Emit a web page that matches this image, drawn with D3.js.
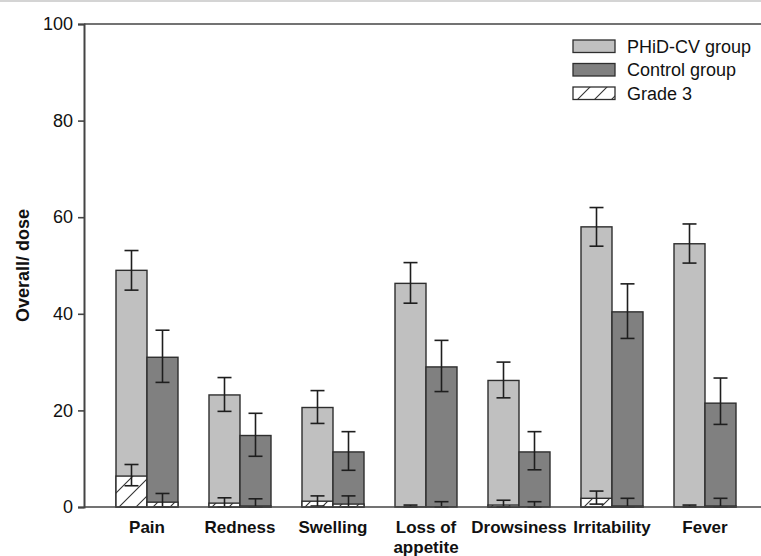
<!DOCTYPE html>
<html>
<head>
<meta charset="utf-8">
<script src="https://cdn.jsdelivr.net/npm/d3@7"></script>
<style>
  html, body { margin: 0; padding: 0; background: #fff; }
  svg { display: block; }
</style>
</head>
<body>
<script>
// Solicited adverse events per dose (%), PHiD-CV vs control, with 95% CI
const categories = ["Pain", "Redness", "Swelling", "Loss of appetite", "Drowsiness", "Irritability", "Fever"];
const groups = ["PHiD-CV group", "Control group"];

const phidOverall  = [49.0, 23.2, 20.6, 46.3, 26.2, 58.0, 54.5];
const phidLow      = [44.9, 19.8, 17.3, 42.2, 22.6, 54.0, 50.5];
const phidHigh     = [53.1, 26.8, 24.1, 50.6, 30.0, 62.0, 58.6];

const controlOverall = [31.0, 14.8, 11.4, 29.0, 11.4, 40.4, 21.5];
const controlLow     = [25.8, 10.5, 7.6, 23.9, 7.7, 34.9, 17.1];
const controlHigh    = [36.6, 19.4, 15.6, 34.5, 15.6, 46.2, 26.7];

const phidGrade3     = [6.4, 0.8, 1.2, 0.0, 0.4, 1.8, 0.0];
const phidG3Low      = [4.4, 0.0, 0.2, 0.0, 0.0, 0.6, 0.0];
const phidG3High     = [8.8, 1.9, 2.3, 0.4, 1.4, 3.3, 0.4];

const controlGrade3  = [1.0, 0.2, 0.6, 0.0, 0.0, 0.2, 0.2];
const controlG3Low   = [0.0, 0.0, 0.0, 0.0, 0.0, 0.0, 0.0];
const controlG3High  = [2.8, 1.7, 2.3, 1.1, 1.1, 1.8, 1.8];

const yTicks = [0, 20, 40, 60, 80, 100];
const legendLabels = ["PHiD-CV group", "Control group", "Grade 3"];

const W = 761, H = 556;
const fills = { "PHiD-CV group": "#c0c0c0", "Control group": "#808080" };
const FONT = "'Liberation Sans', Arial, sans-serif";

const svg = d3.select("body").append("svg").attr("width", W).attr("height", H);

// hatch for grade 3
const defs = svg.append("defs");
const pat = defs.append("pattern")
  .attr("id", "hatch").attr("patternUnits", "userSpaceOnUse")
  .attr("width", 17).attr("height", 17);
pat.append("rect").attr("width", 17).attr("height", 17).attr("fill", "#fff");
pat.append("path").attr("d", "M-2,19 L19,-2 M-4,4 L4,-4 M13,21 L21,13")
  .attr("stroke", "#333").attr("stroke-width", 1.1);

// thin page edge at the top
svg.append("rect").attr("x", 0).attr("y", 0).attr("width", W).attr("height", 2).attr("fill", "#d4d4d4");

const axisX0 = 84, axisX1 = W;
const y = d3.scaleLinear().domain([0, 100]).range([507, 24]);
const x = d3.scaleBand().domain(categories).range([100.5, 751.5])
  .paddingInner(1 / 3).paddingOuter(1 / 6);
const xs = d3.scaleBand().domain(groups).range([0, x.bandwidth()]);

const rows = categories.map((c, i) => ({
  cat: c,
  vals: [
    { g: groups[0], v: phidOverall[i], lo: phidLow[i], hi: phidHigh[i],
      g3: phidGrade3[i], g3lo: phidG3Low[i], g3hi: phidG3High[i] },
    { g: groups[1], v: controlOverall[i], lo: controlLow[i], hi: controlHigh[i],
      g3: controlGrade3[i], g3lo: controlG3Low[i], g3hi: controlG3High[i] }
  ]
}));

const gBars = svg.append("g");
const cats = gBars.selectAll("g.cat").data(rows).join("g")
  .attr("class", "cat")
  .attr("transform", d => `translate(${x(d.cat)},0)`);

const bars = cats.selectAll("g.bar").data(d => d.vals).join("g").attr("class", "bar");

// overall bars
bars.append("rect")
  .attr("x", d => xs(d.g)).attr("width", xs.bandwidth())
  .attr("y", d => y(d.v)).attr("height", d => y(0) - y(d.v))
  .attr("fill", d => fills[d.g]).attr("stroke", "#2e2e2e").attr("stroke-width", 1.4);

// grade 3 portion
bars.filter(d => d.g3 > 0).append("rect")
  .attr("x", d => xs(d.g)).attr("width", xs.bandwidth())
  .attr("y", d => y(d.g3)).attr("height", d => y(0) - y(d.g3))
  .attr("fill", "url(#hatch)").attr("stroke", "#2e2e2e").attr("stroke-width", 1.4);

// error bars
const cap = 7;
function errBar(sel, lo, hi) {
  const cx = d => xs(d.g) + xs.bandwidth() / 2;
  sel.append("line").attr("x1", cx).attr("x2", cx)
    .attr("y1", d => y(d[lo])).attr("y2", d => y(d[hi]));
  sel.append("line").attr("x1", d => cx(d) - cap).attr("x2", d => cx(d) + cap)
    .attr("y1", d => y(d[hi])).attr("y2", d => y(d[hi]));
  sel.append("line").attr("x1", d => cx(d) - cap).attr("x2", d => cx(d) + cap)
    .attr("y1", d => y(d[lo])).attr("y2", d => y(d[lo]));
}
const eb = bars.append("g").attr("stroke", "#1e1e1e").attr("stroke-width", 1.6);
errBar(eb, "lo", "hi");
const eb3 = bars.append("g").attr("stroke", "#1e1e1e").attr("stroke-width", 1.6);
errBar(eb3, "g3lo", "g3hi");

// frame lines: top and baseline
svg.append("line").attr("x1", axisX0).attr("x2", axisX1).attr("y1", y(100)).attr("y2", y(100))
  .attr("stroke", "#444").attr("stroke-width", 1.6);
svg.append("line").attr("x1", axisX0).attr("x2", axisX1).attr("y1", y(0)).attr("y2", y(0))
  .attr("stroke", "#444").attr("stroke-width", 1.6);

// y axis
const yAxis = svg.append("g").attr("transform", `translate(${axisX0},0)`)
  .call(d3.axisLeft(y).tickValues(yTicks).tickSize(6).tickPadding(5).tickFormat(d3.format("d")));
yAxis.select(".domain").attr("stroke", "#444").attr("stroke-width", 2);
yAxis.selectAll(".tick line").attr("stroke", "#444").attr("stroke-width", 1.6);
yAxis.selectAll(".tick text").attr("font-family", FONT).attr("font-size", 18).attr("fill", "#111");

svg.append("text")
  .attr("transform", `translate(29,${(y(0) + y(100)) / 2}) rotate(-90)`)
  .attr("text-anchor", "middle").attr("font-family", FONT).attr("font-size", 18)
  .attr("font-weight", "bold").attr("fill", "#111").text("Overall/ dose");

// category labels
const xl = svg.append("g");
categories.forEach(c => {
  const words = c === "Loss of appetite" ? ["Loss of", "appetite"] : [c];
  const t = xl.append("text").attr("text-anchor", "middle")
    .attr("font-family", FONT).attr("font-size", 17).attr("font-weight", "bold").attr("fill", "#111");
  words.forEach((w, k) => {
    t.append("tspan").attr("x", x(c) + x.bandwidth() / 2).attr("y", 533 + k * 20).text(w);
  });
});

// legend
const lg = svg.append("g").attr("transform", "translate(573,40)");
legendLabels.forEach((lab, i) => {
  const row = lg.append("g").attr("transform", `translate(0,${i * 23.5})`);
  row.append("rect").attr("width", 42).attr("height", 12.5)
    .attr("fill", i === 2 ? "url(#hatch)" : fills[lab])
    .attr("stroke", "#2e2e2e").attr("stroke-width", 1.3);
  row.append("text").attr("x", 54).attr("y", 12.5).attr("font-family", FONT)
    .attr("font-size", 18).attr("fill", "#111").text(lab);
});
</script>
</body>
</html>
